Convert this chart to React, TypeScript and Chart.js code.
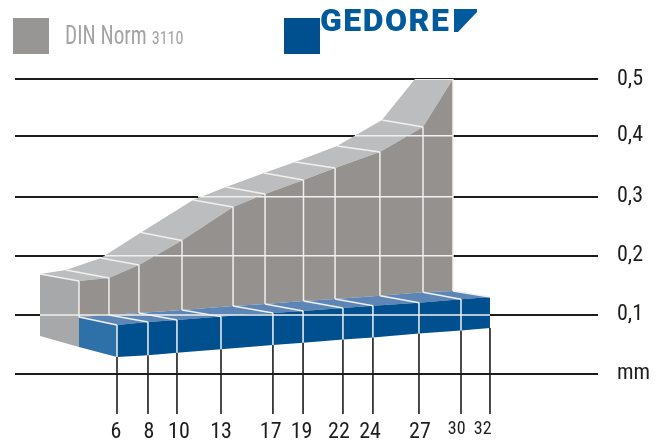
import React, { useEffect, useRef } from "react";
import { Chart, registerables } from "chart.js";

Chart.register(...registerables);

const FONT = '"Roboto Condensed", Roboto, sans-serif';

// sizes of the spanner, mm, with the place of each label on the mm axis
const sizes = ["6", "8", "10", "13", "17", "19", "22", "24", "27", "30", "32"];
const sizeLabelX = [5.93, 8.23, 10.32, 13.25, 16.71, 18.87, 21.47, 23.64, 27.12, 29.68, 31.49];

// value axis
const gridValues = [0.4995, 0.4042, 0.3012, 0.2015, 0.1014, 0.0017];
const gridLabels = ["0,5", "0,4", "0,3", "0,2", "0,1", "mm"];

// DIN 3110 band (grey): front edge, back edge, and foot of the front face
const dinFrontX = [3.35, 5.44, 7.53, 10.53, 14.09, 16.32, 19.0, 21.2, 24.33, 27.33, 29.42];
const dinFrontY = [0.1588, 0.1639, 0.1858, 0.2272, 0.2838, 0.3057, 0.3294, 0.3497, 0.3767, 0.4189, 0.5];
const dinBackX = [0.63, 2.45, 4.88, 7.67, 11.3, 13.6, 16.25, 18.41, 21.34, 24.47, 26.77];
const dinBackY = [0.1706, 0.1774, 0.1976, 0.2407, 0.2956, 0.3176, 0.3412, 0.3598, 0.3868, 0.4307, 0.5];
const dinBaseY = [0.098, 0.1014, 0.1047, 0.1098, 0.1166, 0.1199, 0.125, 0.1284, 0.134, 0.1397, 0.1419];
const dinSideBottomY = [0.0659, 0.0473];

// GEDORE band (blue)
const gedoreX = [6, 8.16, 10.18, 13.25, 16.87, 18.97, 21.75, 23.84, 27.05, 29.98, 32];
const gedoreTopY = [0.0845, 0.0895, 0.0929, 0.0986, 0.1047, 0.1081, 0.1132, 0.1171, 0.1221, 0.1279, 0.1318];
const gedoreBottomY = [0.0304, 0.0333, 0.0377, 0.0434, 0.0507, 0.0546, 0.06, 0.0633, 0.0701, 0.0752, 0.0794];

// where each value line crosses onto the bands
const whiteGridStartX = [26.77, 22.59, 11.65, 5.16, 0.63];
const whiteGridEndX = [29.42, 29.42, 29.42, 29.42, 32];
const axisBottom = -0.0659;

const DARK = "#94918e";
const LIGHT = "#bcbdbf";
const SIDE = "#a7a8aa";
const BLUE = "#00508f";
const BLUE_TOP = "#5d86b6";
const BLUE_SIDE = "#2e70a8";
const LINE = "#1d1d1b";
const WHITE = "#f1f0ee";

const pts = (xs: number[], ys: number[]) => xs.map((x, i) => ({ x, y: ys[i] }));

function buildDatasets() {
  const list: any[] = [];
  const area = (name: string, top: any[], bottom: any[], color: string) => {
    list.push({ label: name, data: top, borderWidth: 0, pointRadius: 0, backgroundColor: color, fill: "+1", tension: 0 });
    list.push({ label: name + " foot", data: bottom, borderWidth: 0, pointRadius: 0, fill: false, tension: 0 });
  };
  const line = (name: string, data: any[], color: string, width: number) => {
    list.push({ label: name, data, borderColor: color, borderWidth: width, pointRadius: 0, fill: false, tension: 0, borderCapStyle: "butt" });
  };

  // grey body
  area(
    "DIN side",
    pts([dinBackX[0], dinFrontX[0]], [dinBackY[0], dinFrontY[0]]),
    pts([dinBackX[0], dinFrontX[0]], dinSideBottomY),
    SIDE
  );
  area(
    "DIN top",
    [...pts(dinBackX, dinBackY), { x: dinFrontX[10], y: dinFrontY[10] }],
    [{ x: dinBackX[0], y: dinBackY[0] }, ...pts(dinFrontX, dinFrontY)],
    LIGHT
  );
  area("DIN face", pts(dinFrontX, dinFrontY), pts(dinFrontX, dinBaseY), DARK);

  sizes.forEach((s, i) => {
    line("DIN rib " + s, [{ x: dinBackX[i], y: dinBackY[i] }, { x: dinFrontX[i], y: dinFrontY[i] }], WHITE, 1.5);
    line("DIN post " + s, [{ x: dinFrontX[i], y: dinFrontY[i] }, { x: dinFrontX[i], y: dinBaseY[i] }], WHITE, 1.5);
  });

  // black leaders down to the labels
  sizes.forEach((s, i) => {
    line("leader " + s, [{ x: gedoreX[i], y: gedoreBottomY[i] }, { x: gedoreX[i], y: axisBottom }], LINE, 1.6);
  });

  // blue body
  area(
    "GEDORE side",
    [{ x: dinFrontX[0], y: dinBaseY[0] }, { x: gedoreX[0], y: gedoreTopY[0] }],
    [{ x: dinFrontX[0], y: dinSideBottomY[1] }, { x: gedoreX[0], y: gedoreBottomY[0] }],
    BLUE_SIDE
  );
  area(
    "GEDORE top",
    [...pts(dinFrontX, dinBaseY), { x: gedoreX[10], y: gedoreTopY[10] }],
    [{ x: dinFrontX[0], y: dinBaseY[0] }, ...pts(gedoreX, gedoreTopY)],
    BLUE_TOP
  );
  area("GEDORE face", pts(gedoreX, gedoreTopY), pts(gedoreX, gedoreBottomY), BLUE);

  sizes.forEach((s, i) => {
    line("GEDORE rib " + s, [{ x: dinFrontX[i], y: dinBaseY[i] }, { x: gedoreX[i], y: gedoreTopY[i] }], WHITE, 1.5);
    if (i < 10) {
      line("GEDORE post " + s, [{ x: gedoreX[i], y: gedoreTopY[i] }, { x: gedoreX[i], y: gedoreBottomY[i] }], WHITE, 1.5);
    }
  });

  // value lines showing white over the bands
  whiteGridStartX.forEach((x0, i) => {
    line("grid over band " + gridLabels[i], [{ x: x0, y: gridValues[i] }, { x: whiteGridEndX[i], y: gridValues[i] }], WHITE, 1.6);
  });

  const n = list.length;
  list.forEach((d, i) => (d.order = n - i));
  return list;
}

export default function App() {
  const ref = useRef<HTMLCanvasElement>(null);
  useEffect(() => {
    const chart = new Chart(ref.current as HTMLCanvasElement, {
      type: "line",
      data: { datasets: buildDatasets() },
      options: {
        responsive: false,
        animation: false,
        parsing: false,
        normalized: true,
        layout: { padding: { top: 79, left: 15, right: 0, bottom: 0 } },
        plugins: { legend: { display: false }, tooltip: { enabled: false } },
        scales: {
          x: {
            type: "linear",
            min: -1.11,
            max: 39.53,
            border: { display: false },
            grid: { display: false, drawTicks: false },
            afterBuildTicks: (axis: any) => {
              axis.ticks = sizeLabelX.map((value) => ({ value }));
            },
            afterFit: (axis: any) => {
              axis.height = 27;
              axis.paddingLeft = 0;
              axis.paddingRight = 0;
            },
            ticks: {
              autoSkip: false,
              maxRotation: 0,
              padding: 5,
              color: LINE,
              font: (c: any) => ({ family: FONT, size: c.index >= 9 ? 18 : 22 }),
              callback: (_v: any, i: number) => sizes[i],
            },
          },
          y: {
            type: "linear",
            position: "right",
            min: axisBottom,
            max: 0.5,
            border: { display: false },
            grid: { color: LINE, lineWidth: 2, drawTicks: false },
            afterBuildTicks: (axis: any) => {
              axis.ticks = gridValues.map((value) => ({ value }));
            },
            afterFit: (axis: any) => {
              axis.width = 61;
              axis.paddingTop = 0;
              axis.paddingBottom = 0;
            },
            ticks: {
              autoSkip: false,
              padding: 19,
              color: LINE,
              font: { family: FONT, size: 22 },
              callback: (_v: any, i: number) => gridLabels[i],
            },
          },
        },
      } as any,
    });
    return () => chart.destroy();
  }, []);

  return (
    <div style={{ position: "absolute", left: 0, top: 0, width: 659, height: 441, background: "#fff", overflow: "hidden" }}>
      <canvas ref={ref} width={659} height={441} style={{ position: "absolute", left: 0, top: 0 }} />
      <div style={{ position: "absolute", left: 13, top: 18, width: 36, height: 36, background: "#979694" }} />
      <div style={{ position: "absolute", left: 65, top: 21, fontFamily: FONT, fontSize: 25, color: "#a3a3a3", lineHeight: "30px", whiteSpace: "nowrap", transform: "scaleX(0.85)", transformOrigin: "left center" }}>
        DIN Norm <span style={{ fontSize: 19 }}>3110</span>
      </div>
      <div style={{ position: "absolute", left: 284, top: 18, width: 36, height: 36, background: BLUE }} />
      <div style={{ position: "absolute", left: 320, top: 1, fontFamily: "Roboto, sans-serif", fontWeight: 900, fontSize: 32, letterSpacing: 1.5, color: "#005a9c", lineHeight: "38px", whiteSpace: "nowrap" }}>
        GEDORE
      </div>
      <svg style={{ position: "absolute", left: 0, top: 0 }} width={659} height={60}>
        <polygon points="454,9 477,9 477,12 458,32 454,32" fill="#005a9c" />
      </svg>
    </div>
  );
}
